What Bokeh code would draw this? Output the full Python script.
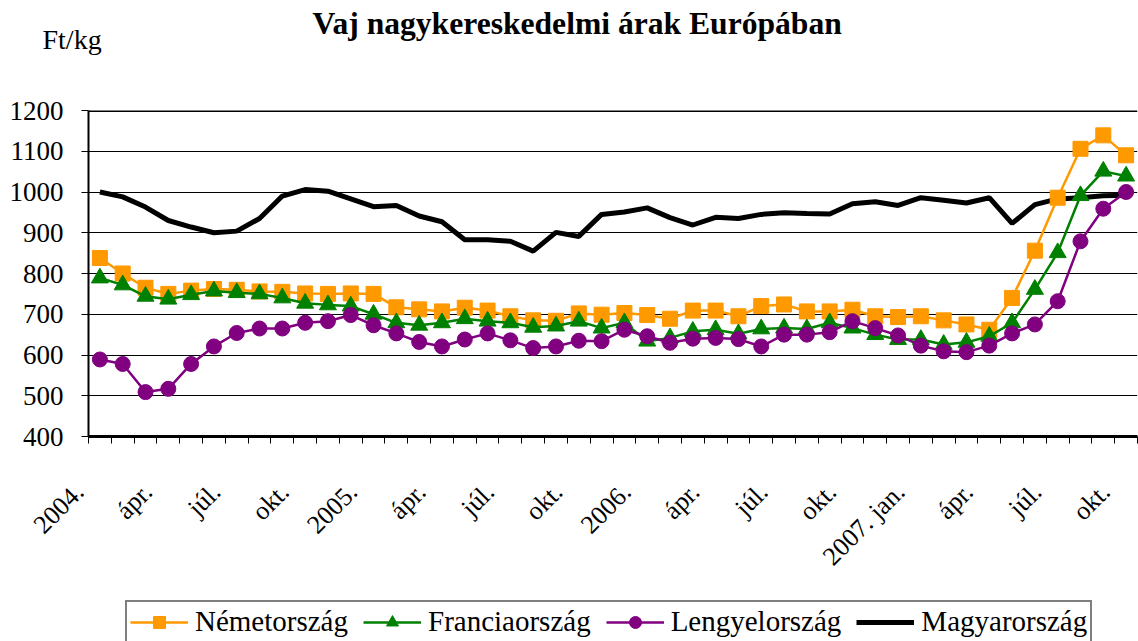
import math
from bokeh.plotting import figure
from bokeh.layouts import column
from bokeh.models import Range1d, FixedTicker, Legend, LegendItem, Span, Title
from bokeh.embed import file_html
from bokeh.resources import INLINE

# Monthly wholesale butter prices, Jan 2004 - Oct 2007 (Ft/kg)
nemetorszag = [838, 800, 765, 750, 758, 762, 760, 756, 755, 751, 750, 751,
               750, 717, 712, 707, 716, 709, 695, 685, 684, 702, 699, 703,
               698, 689, 709, 709, 695, 720, 724, 707, 707, 711, 695, 693,
               695, 685, 675, 662, 740, 856, 986, 1106, 1139, 1090]
franciaorszag = [789, 772, 744, 737, 748, 757, 753, 750, 740, 727, 723, 720,
                 700, 679, 673, 679, 689, 683, 679, 668, 671, 683, 666, 679,
                 634, 642, 658, 662, 652, 664, 666, 664, 679, 666, 650, 638,
                 638, 626, 631, 646, 679, 761, 851, 991, 1051, 1039]
lengyelorszag = [589, 578, 509, 517, 578, 621, 654, 665, 665, 679, 683, 698,
                 673, 653, 632, 621, 638, 653, 636, 617, 621, 635, 634, 662,
                 646, 630, 640, 642, 639, 621, 650, 650, 656, 683, 666, 648,
                 623, 609, 607, 623, 653, 675, 732, 879, 959, 1000]
magyarorszag = [1000, 988, 963, 930, 914, 900, 904, 935, 990, 1006, 1002, 983,
                964, 967, 941, 927, 883, 883, 879, 855, 901, 891, 945, 951,
                961, 937, 919, 938, 935, 945, 949, 947, 946, 971, 976, 967,
                986, 980, 973, 986, 923, 969, 983, 986, 991, 992]

tick_labels = ["2004.", "ápr.", "júl.", "okt.", "2005.", "ápr.", "júl.", "okt.",
               "2006.", "ápr.", "júl.", "okt.", "2007. jan.", "ápr.", "júl.", "okt."]
y_ticks = [400, 500, 600, 700, 800, 900, 1000, 1100, 1200]

series_names = ["Németország", "Franciaország", "Lengyelország", "Magyarország"]
series_colors = ["#FF9900", "#008000", "#800080", "black"]
title_text = "Vaj nagykereskedelmi árak Európában"
unit_text = "Ft/kg"

FONT = "Liberation Serif"
NBSP = "\u00a0"
n = len(magyarorszag)
x = list(range(n))


def blank(fig):
    fig.axis.visible = False
    fig.grid.visible = False
    fig.outline_line_color = None
    fig.background_fill_color = "white"
    fig.border_fill_color = "white"


# ---- header strip: main title (outer) and unit label (inner) ----
h = figure(width=1138, height=60, output_backend="svg", toolbar_location=None,
           x_range=Range1d(0, 1), y_range=Range1d(0, 1),
           min_border_left=88, min_border_right=1, min_border_top=46, min_border_bottom=0)
blank(h)
h.title.text = title_text
h.title.align = "left"
h.title.offset = 224
h.title.standoff = -21
h.title.text_font = FONT
h.title.text_font_size = "31.6px"
h.title.text_font_style = "bold"
h.title.text_color = "black"
unit_title = Title(text=unit_text, align="left", offset=-46, standoff=-17,
                   text_font=FONT, text_font_size="28px", text_font_style="normal",
                   text_color="black")
h.add_layout(unit_title, "above")

# ---- main chart ----
p = figure(width=1138, height=537, output_backend="svg", toolbar_location=None,
           x_range=Range1d(-0.5, n - 0.5), y_range=Range1d(y_ticks[0], y_ticks[-1]),
           min_border_left=88, min_border_right=1, min_border_top=50,
           min_border_bottom=161)
p.outline_line_color = None
p.background_fill_color = "white"
p.border_fill_color = "white"

p.xgrid.visible = False
p.ygrid.grid_line_color = "black"
p.ygrid.grid_line_width = 1
p.ygrid.ticker = FixedTicker(ticks=y_ticks)

# x axis: labels every 3rd month, small ticks between months
label_pos = [i * 3 - 0.5 for i in range(len(tick_labels))]
p.xaxis.ticker = FixedTicker(ticks=label_pos,
                             minor_ticks=[i - 0.5 for i in range(n + 1)])
p.xaxis.major_label_overrides = {pos: lbl + NBSP * 2 for pos, lbl in zip(label_pos, tick_labels)}
p.xaxis.major_tick_out = 0
p.xaxis.major_tick_in = 0
p.xaxis.minor_tick_out = 7
p.xaxis.minor_tick_in = 0
p.xaxis.minor_tick_line_color = "black"
p.xaxis.axis_line_width = 3
p.xaxis.axis_line_color = "black"
p.xaxis.major_label_orientation = math.pi / 4
p.xaxis.major_label_standoff = 35
p.xaxis.major_label_text_font = FONT
p.xaxis.major_label_text_font_size = "26px"
p.xaxis.major_label_text_color = "black"

# y axis
p.yaxis.ticker = FixedTicker(ticks=y_ticks)
p.yaxis.major_tick_out = 7
p.yaxis.major_tick_in = 0
p.yaxis.minor_tick_out = 0
p.yaxis.minor_tick_in = 0
p.yaxis.major_tick_line_color = "black"
p.yaxis.axis_line_width = 2
p.yaxis.axis_line_color = "black"
p.yaxis.major_label_standoff = 18
p.yaxis.major_label_text_font = FONT
p.yaxis.major_label_text_font_size = "27px"
p.yaxis.major_label_text_color = "black"

p.add_layout(Span(location=y_ticks[-1], dimension="width", line_color="black", line_width=3))


def draw_series(fig):
    rm = fig.line(x, magyarorszag, line_color=series_colors[3], line_width=5)
    rn = fig.line(x, nemetorszag, line_color=series_colors[0], line_width=2.5)
    sn = fig.scatter(x, nemetorszag, marker="square", size=15,
                     fill_color=series_colors[0], line_color=series_colors[0])
    rf = fig.line(x, franciaorszag, line_color=series_colors[1], line_width=2.5)
    sf = fig.scatter(x, franciaorszag, marker="triangle", size=17,
                     fill_color=series_colors[1], line_color=series_colors[1])
    rl = fig.line(x, lengyelorszag, line_color=series_colors[2], line_width=2.5)
    sl = fig.scatter(x, lengyelorszag, marker="circle", size=15,
                     fill_color=series_colors[2], line_color=series_colors[2])
    return [[rn, sn], [rf, sf], [rl, sl], [rm]]


draw_series(p)

# ---- legend strip (series drawn off-view, only used for legend glyphs) ----
q = figure(width=1138, height=44, output_backend="svg", toolbar_location=None,
           x_range=Range1d(2000, 2001), y_range=Range1d(0, 1),
           min_border_left=88, min_border_right=1, min_border_top=0, min_border_bottom=0)
blank(q)
groups = draw_series(q)

legend = Legend(items=[LegendItem(label=name, renderers=rs)
                       for name, rs in zip(series_names, groups)],
                location=(37, -2), orientation="horizontal",
                border_line_color="black", border_line_width=2,
                label_text_font=FONT, label_text_font_size="29px", label_text_color="black",
                glyph_width=58, glyph_height=30, label_height=30, label_standoff=7,
                spacing=15, padding=3, margin=0,
                background_fill_color="white", background_fill_alpha=1)
q.add_layout(legend)

layout = column(h, p, q, spacing=0)
open("out.html", "w").write(file_html(layout, INLINE))
